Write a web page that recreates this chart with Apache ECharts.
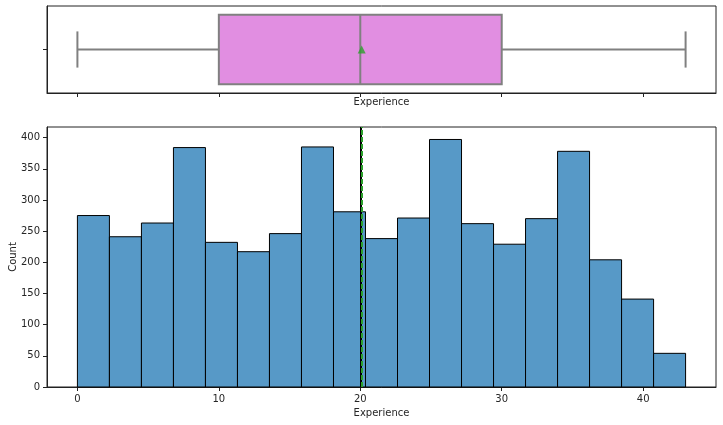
<!DOCTYPE html>
<html>
<head>
<meta charset="utf-8">
<script src="https://cdn.jsdelivr.net/npm/echarts@6/dist/echarts.min.js"></script>
<style>
html,body{margin:0;padding:0;background:#fff;}
#chart{width:723px;height:425px;}
</style>
</head>
<body>
<div id="chart"></div>
<script>
// ---- data ----
const binStart = 0;
const binEnd = 43;
const counts = [275, 241, 263, 384, 232, 217, 246, 385, 281, 238, 271, 397, 262, 229, 270, 378, 204, 141, 54];
const boxStats = [0, 10, 20, 30, 43]; // min, q1, median, q3, max
const meanValue = 20.1;
const medianValue = 20;
const xTicks = [0, 10, 20, 30, 40];
const yTicks = [0, 50, 100, 150, 200, 250, 300, 350, 400];
const xLabel = 'Experience';
const yLabel = 'Count';

// ---- build ----
const binWidth = (binEnd - binStart) / counts.length;
const histData = counts.map((c, i) => [binStart + i * binWidth, binStart + (i + 1) * binWidth, c]);

const xMin = -2.15, xMax = 45.15;
const font = 'DejaVu Sans';
const textColor = '#262626';
const boxFill = '#e18ee1';
const boxEdge = '#808080';

const chart = echarts.init(document.getElementById('chart'), null, {renderer: 'canvas'});

const baseX = {
  type: 'value', min: xMin, max: xMax,
  splitLine: {show: false},
  axisLine: {show: true, onZero: false, lineStyle: {color: '#222', width: 1}},
  axisTick: {show: true, length: 4, customValues: xTicks, lineStyle: {color: '#222'}},
  nameLocation: 'middle',
  nameMoveOverlap: false,
  nameTextStyle: {fontFamily: font, fontSize: 10, color: textColor}
};

const option = {
  animation: false,
  backgroundColor: '#fff',
  grid: [
    {left: 47, right: 7, top: 6, height: 87, show: true, borderColor: '#222', borderWidth: 1, containLabel: false, outerBoundsMode: 'none'},
    {left: 47, right: 7, top: 127, height: 260, show: true, borderColor: '#222', borderWidth: 1, containLabel: false, outerBoundsMode: 'none'}
  ],
  xAxis: [
    Object.assign({}, baseX, {
      gridIndex: 0,
      name: xLabel, nameGap: 4,
      axisLabel: {show: false, customValues: xTicks}
    }),
    Object.assign({}, baseX, {
      gridIndex: 1,
      name: xLabel, nameGap: 21,
      axisLabel: {show: true, customValues: xTicks, fontFamily: font, fontSize: 10, color: textColor, margin: 7}
    })
  ],
  yAxis: [
    {
      gridIndex: 0, type: 'category', data: [''], boundaryGap: true,
      axisLine: {show: true, onZero: false, lineStyle: {color: '#222'}},
      axisTick: {show: true, alignWithLabel: true, length: 4, lineStyle: {color: '#222'}},
      axisLabel: {show: false},
      splitLine: {show: false}
    },
    {
      gridIndex: 1, type: 'value', min: 0, max: 417,
      name: yLabel, nameLocation: 'middle', nameGap: 29, nameRotate: 90,
      nameMoveOverlap: false,
      nameTextStyle: {fontFamily: font, fontSize: 10, color: textColor},
      axisLine: {show: true, onZero: false, lineStyle: {color: '#222'}},
      axisTick: {show: true, length: 4, customValues: yTicks, lineStyle: {color: '#222'}},
      axisLabel: {show: true, customValues: yTicks, fontFamily: font, fontSize: 10, color: textColor, margin: 7},
      splitLine: {show: false}
    }
  ],
  series: [
    {
      type: 'custom',
      xAxisIndex: 0, yAxisIndex: 0,
      data: [boxStats.concat([0])],
      encode: {x: [0, 1, 2, 3, 4], y: 5},
      renderItem: function (params, api) {
        const vMin = api.value(0), q1 = api.value(1), med = api.value(2), q3 = api.value(3), vMax = api.value(4);
        const c = api.coord([med, 0]);
        const band = api.size([0, 1])[1];
        const boxH = band * 0.8;
        const capH = boxH * 0.52;
        const yc = c[1];
        const pMin = api.coord([vMin, 0])[0];
        const pQ1 = api.coord([q1, 0])[0];
        const pMed = c[0];
        const pQ3 = api.coord([q3, 0])[0];
        const pMax = api.coord([vMax, 0])[0];
        const ls = {stroke: boxEdge, lineWidth: 2, fill: null};
        return {
          type: 'group',
          children: [
            {type: 'line', shape: {x1: pMin, y1: yc, x2: pQ1, y2: yc}, style: ls},
            {type: 'line', shape: {x1: pQ3, y1: yc, x2: pMax, y2: yc}, style: ls},
            {type: 'line', shape: {x1: pMin, y1: yc - capH / 2, x2: pMin, y2: yc + capH / 2}, style: ls},
            {type: 'line', shape: {x1: pMax, y1: yc - capH / 2, x2: pMax, y2: yc + capH / 2}, style: ls},
            {type: 'rect', shape: {x: pQ1, y: yc - boxH / 2, width: pQ3 - pQ1, height: boxH}, style: {fill: boxFill, stroke: boxEdge, lineWidth: 2}},
            {type: 'line', shape: {x1: pMed, y1: yc - boxH / 2, x2: pMed, y2: yc + boxH / 2}, style: ls}
          ]
        };
      }
    },
    {
      type: 'scatter',
      xAxisIndex: 0, yAxisIndex: 0,
      symbol: 'triangle', symbolSize: 8,
      itemStyle: {color: '#2ca02c'},
      data: [[meanValue, 0]],
      z: 5
    },
    {
      type: 'custom',
      xAxisIndex: 1, yAxisIndex: 1,
      data: histData,
      encode: {x: [0, 1], y: 2},
      renderItem: function (params, api) {
        const p0 = api.coord([api.value(0), api.value(2)]);
        const p1 = api.coord([api.value(1), 0]);
        return {
          type: 'rect',
          shape: {x: p0[0], y: p0[1], width: p1[0] - p0[0], height: p1[1] - p0[1]},
          style: {fill: '#5799c7', stroke: '#000', lineWidth: 1}
        };
      },
      markLine: {
        silent: true, symbol: ['none', 'none'], label: {show: false},
        data: [
          {xAxis: medianValue, lineStyle: {color: '#000', type: 'solid', width: 2}},
          {xAxis: meanValue, lineStyle: {color: '#2ca02c', type: [5, 2], width: 2}}
        ]
      }
    }
  ]
};
chart.setOption(option);
</script>
</body>
</html>
